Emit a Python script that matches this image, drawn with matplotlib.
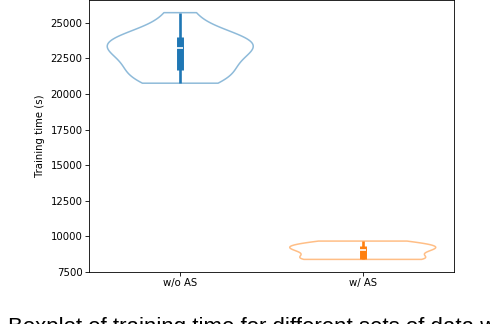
import matplotlib.pyplot as plt
import numpy as np

# training times (s)
labels = ['w/o AS', 'w/ AS']
times_wo_as = [20750, 21100, 21400, 21700, 22300, 22800, 23200,
               23300, 23400, 24000, 24000, 24100, 25700]
times_w_as = [8385, 8400, 8410, 8425, 8800, 8960, 9100, 9200,
              9280, 9420, 9520, 9670]
yticks = [7500, 10000, 12500, 15000, 17500, 20000, 22500, 25000]
caption = 'Boxplot of training time for different sets of data with and without AS'

data = [times_wo_as, times_w_as]
colors = ['#1f77b4', '#ff7f0e']
positions = np.arange(len(data))

fig = plt.figure(figsize=(4.9, 3.24), dpi=100)
ax = fig.add_axes([0.1816, 0.1605, 0.7449, 0.8385])

parts = ax.violinplot(data, positions=positions, widths=0.8, showextrema=False)
for body, c in zip(parts['bodies'], colors):
    body.set_facecolor('none')
    body.set_edgecolor(c)
    body.set_alpha(0.5)
    body.set_linewidth(1.1)

# inner box: whiskers, IQR bar and white median
for pos, vals, c in zip(positions, data, colors):
    q1, med, q3 = np.percentile(vals, [25, 50, 75])
    ax.vlines(pos, min(vals), max(vals), color=c, linewidth=1.9)
    ax.vlines(pos, q1, q3, color=c, linewidth=5)
    ax.plot(pos, med, marker='_', color='white', markersize=4, markeredgewidth=1.2)

ax.set_xlim(-0.5, 1.5)
ax.set_xticks(positions)
ax.set_xticklabels(labels)
ax.set_yticks(yticks)
ax.set_ylabel('Training time (s)', fontsize=7.3)
ax.tick_params(labelsize=7.3, length=2.6, width=0.6, pad=2)
for s in ax.spines.values():
    s.set_linewidth(0.6)

fig.text(8 / 490, 1 - 316.5 / 324, caption, fontsize=16, family='Liberation Sans', va='top', ha='left')

fig.savefig('out.png', dpi=100)
